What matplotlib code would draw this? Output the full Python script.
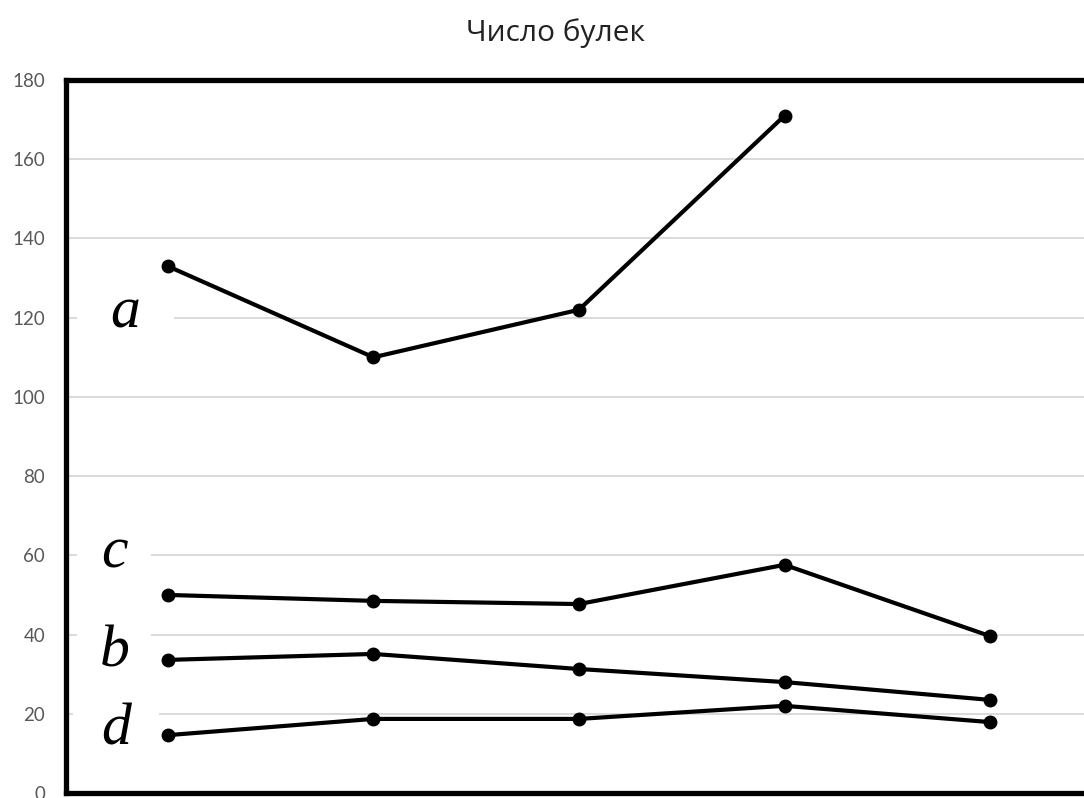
import matplotlib
matplotlib.use("Agg")
import matplotlib.pyplot as plt

# Measurements per observation point (five points along the x axis)
positions = [0, 1, 2, 3, 4]
series_a = [133, 110, 122, 171]
series_b = [33.6, 35.1, 31.3, 28.0, 23.5]
series_c = [50.0, 48.5, 47.7, 57.6, 39.6]
series_d = [14.6, 18.7, 18.7, 22.0, 17.9]
y_ticks = [0, 20, 40, 60, 80, 100, 120, 140, 160, 180]
title = "Число булек"

fig = plt.figure(figsize=(10.84, 7.98), dpi=100)
ax = fig.add_axes([0.0609, 0.0063, 0.9492, 0.8934])

for ys in (series_a, series_b, series_c, series_d):
    ax.plot(positions[:len(ys)], ys, color="black", lw=3.0,
            marker="o", ms=9, solid_capstyle="round", zorder=3)

ax.set_xlim(-0.495, 4.51)
ax.set_ylim(0, 180)
ax.set_yticks(y_ticks)
ax.set_xticks([])
ax.grid(axis="y", color="#d9d9d9", lw=1.4, zorder=0)
ax.set_axisbelow(True)
ax.tick_params(axis="y", length=0, pad=15, labelsize=13.5, labelcolor="#595959")
for lab in ax.get_yticklabels():
    lab.set_fontfamily("Lato")

for side in ("left", "top", "bottom"):
    ax.spines[side].set_linewidth(3.8)
    ax.spines[side].set_color("black")
ax.spines["right"].set_visible(False)

# Series labels in italic serif, boxed in white so the grid breaks behind them
labels = [("a", -0.205, 121.0, 24), ("c", -0.26, 60.5, 17),
          ("b", -0.26, 35.5, 16), ("d", -0.25, 15.8, 20)]
for txt, xpos, ypos, pad in labels:
    ax.text(xpos, ypos, txt, fontfamily="Liberation Serif", style="italic",
            fontsize=43, ha="center", va="center", zorder=2,
            bbox=dict(facecolor="white", edgecolor="none", pad=pad))

fig.text(0.512, 0.958, title, ha="center", va="center", fontsize=21.5,
         fontfamily="Open Sans", color="#222222")

fig.savefig("out.png", dpi=100)
